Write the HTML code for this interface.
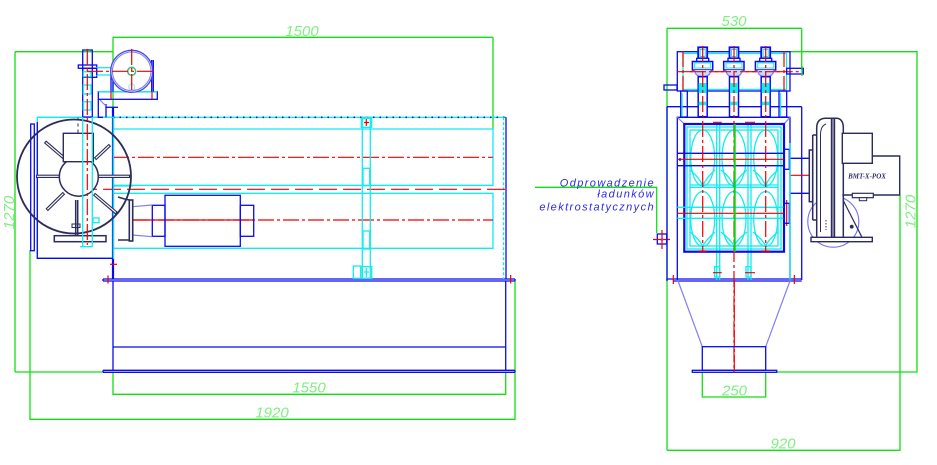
<!DOCTYPE html>
<html><head><meta charset="utf-8"><style>
html,body{margin:0;padding:0;background:#fff;}
svg{display:block;}
.g{stroke:#10e010;fill:none;stroke-width:1.3}
.b{stroke:#0a0af0;fill:none;stroke-width:1.3}
.bb{stroke:#0a0af0;fill:none;stroke-width:2.2}
.c{stroke:#10ecf0;fill:none;stroke-width:1.3}
.r{stroke:#f00000;fill:none;stroke-width:1.2;stroke-dasharray:16 3 3 3}
.rd{stroke:#f00000;fill:none;stroke-width:1.2;stroke-dasharray:18 6}
.rs{stroke:#f00000;fill:none;stroke-width:1.2}
.n{stroke:#2c2c5c;fill:none;stroke-width:1.5}
.l{stroke:#8080f0;fill:none;stroke-width:1.2}
.dt{fill:#80ee80;font-family:"Liberation Sans",sans-serif;font-style:italic;font-size:15px}
.lab{fill:#2a2ae8;font-family:"Liberation Sans",sans-serif;font-style:italic;font-size:11px;letter-spacing:1.4px}
</style></head><body>
<svg width="937" height="465" viewBox="0 0 937 465" xmlns="http://www.w3.org/2000/svg">

<!-- ================= LEFT VIEW ================= -->
<!-- dimensions -->
<path class="g" d="M15,51.7 H113 M15,51.7 V372 M15,372 H103"/>
<path class="g" d="M113,37.3 V129 M493,37.3 V129 M113,37.3 H493"/>
<path class="g" d="M30,250 V419.3 H515 V281"/>
<path class="g" d="M113,372 V394.3 H505.7 V372"/>
<text class="dt" x="302" y="36" text-anchor="middle">1500</text>
<text class="dt" x="309" y="392.5" text-anchor="middle">1550</text>
<text class="dt" x="272" y="417.6" text-anchor="middle">1920</text>
<text class="dt" transform="translate(14,212.5) rotate(-90)" text-anchor="middle">1270</text>

<!-- base frame -->
<path class="b" d="M103,279 H515 M103,281 H515 M103,279 V281 M515,279 V281"/>
<path class="b" d="M113,281 V370.3 M505.7,281 V370.3 M113,347 H505.7"/>
<path class="b" d="M103,370.3 H515 M103,372.3 H515 M103,370.3 V372.3 M515,370.3 V372.3"/>
<path class="rs" d="M108,275.5 V283.5 M510.7,275 V283.5"/>

<!-- housing -->
<path class="c" d="M37.3,117.3 H506"/>
<path d="M113,117.3 H506" stroke="#0a0af0" stroke-width="1.6" stroke-dasharray="1.5 5" fill="none"/>
<path class="b" d="M506,117.3 V279"/>
<path class="c" d="M503.5,117.3 V279" stroke-dasharray="3 2"/>
<path class="c" d="M113,129 H493 V185.3 H113 M113,193.3 H493 V248.3 H113 M113,186 H133"/>
<path class="r" d="M113,157.3 H493"/>
<path class="rd" d="M79,189.3 H506"/>
<path class="r" d="M133,220 H493"/>
<path class="rs" d="M133,220 H253" stroke-width="2"/>

<!-- cylinder -->
<rect class="b" x="165" y="195.3" width="75.3" height="51"/>
<rect class="b" x="152.3" y="205.3" width="12.7" height="31"/>
<rect class="b" x="240.3" y="205.3" width="13.4" height="31"/>
<path class="l" d="M132.3,206.7 L152.3,205 M132.3,235 L152.3,236.7"/>
<rect x="129.3" y="200" width="3.4" height="41" fill="none" stroke="#2c2c5c" stroke-width="1.6"/>
<path class="n" d="M118,197 Q124,199 129.3,200 M118,240 H129.3" stroke-width="1.2"/>

<!-- cyan column -->
<rect class="c" x="362.3" y="117.3" width="8" height="161"/>
<rect class="c" x="361.3" y="118.3" width="10.4" height="9"/>
<path class="rs" d="M366.3,119 V126 M364,122.5 H369"/>
<rect class="c" x="363" y="168.3" width="6.7" height="17.4"/>
<rect class="c" x="363" y="231" width="6.7" height="18"/>
<rect class="c" x="353.3" y="266" width="7.4" height="12.3" stroke-width="2"/>
<rect class="c" x="362.3" y="266.7" width="9.4" height="11.6"/>
<path class="c" d="M366.3,268 V277 M364,272 H369"/>

<!-- thick blue wall -->
<path class="bb" d="M113,107 V279"/>
<path class="b" d="M106,107.3 H118"/>
<path class="rs" d="M110,264.3 H117"/>

<!-- fan section -->
<rect class="c" x="37.3" y="117.3" width="76" height="141"/>
<path class="b" d="M37.3,122 V258.3 H113"/>
<rect class="b" x="30.7" y="124" width="3.6" height="126.7"/>
<circle cx="74" cy="176.5" r="57" fill="none" stroke="#2c2c5c" stroke-width="1.8"/>
<!-- spokes -->
<g stroke="#2c2c5c" stroke-width="3.4" fill="none">
<path d="M36,176.3 H130"/>
<path d="M45,141.7 L64,158 M110,145 L95,159 M46.7,210 L64,193 M116.7,213.3 L94,194"/>
</g>
<g stroke="#ffffff" stroke-width="1.2" fill="none">
<path d="M37,176.3 H129"/>
<path d="M45.8,142.4 L63.2,157.3 M109.2,145.7 L95.8,158.3 M47.4,209.3 L63.3,193.7 M115.9,212.6 L94.8,194.7"/>
</g>
<circle cx="78.8" cy="176.7" r="19.5" fill="#fff" stroke="#2c2c5c" stroke-width="1.5"/>
<rect x="63.3" y="133.3" width="30" height="28.4" fill="#fff" stroke="#2c2c5c" stroke-width="1.4"/>
<path d="M78,117.5 V133" stroke="#2c2c5c" stroke-width="1" stroke-dasharray="3 3" fill="none"/>
<path class="n" d="M77.7,200 V235 M75.7,200 V235" stroke-width="1"/>
<rect x="72" y="224" width="8" height="3.5" fill="none" stroke="#2c2c5c" stroke-width="1"/>
<rect class="n" x="54.3" y="235.7" width="51.7" height="6"/>
<rect class="c" x="93" y="218" width="6" height="4.7"/>

<!-- pipe column -->
<rect class="b" x="82.7" y="50" width="9.6" height="67"/>
<path class="c" d="M82.7,117 V246.7 M92.3,117 V246.7 M80,246.7 H92.3"/>
<rect class="b" x="78.3" y="65" width="18.4" height="3.3" stroke-width="1.6"/>
<rect class="b" x="82.7" y="68.3" width="14" height="9"/>
<rect class="c" x="83.3" y="71.7" width="7.7" height="5"/>
<rect class="c" x="83.3" y="85" width="7.7" height="9"/>
<rect class="c" x="83.3" y="101.7" width="7.7" height="8.3"/>
<path class="r" d="M87.3,49 V245" stroke-dasharray="10 3 2 3"/>
<rect class="c" x="96.7" y="67.7" width="20" height="7.3"/>
<path class="b" d="M96.7,67.7 V75"/>

<!-- blower -->
<rect class="b" x="98.3" y="91.7" width="59" height="7.6"/>
<path class="c" d="M98.3,91.7 H157.3"/>
<path class="b" d="M111,68 V91.7 M113,68 V91.7 M151.7,60 V91.7 M153.3,60 V91.7"/>
<circle cx="131.7" cy="71.3" r="21" fill="#fff" stroke="#4444ee" stroke-width="1.3"/>
<circle cx="131.7" cy="71.3" r="19.3" fill="none" stroke="#8080f0" stroke-width="1.1"/>
<circle cx="131.7" cy="71.3" r="4" fill="none" stroke="#30c080" stroke-width="1.5"/>
<circle cx="131.7" cy="87" r="3" fill="none" stroke="#a0e0f0" stroke-width="1"/>
<path class="r" d="M87,71.3 H153 M131.7,49 V90" stroke-dasharray="8 3 2 3"/>
<path class="rd" d="M111,92 V99 M152,92 V99" stroke-dasharray="3 2"/>
<path class="b" d="M98.3,99.3 V117.3 H103 M106,104 V117.3"/>
<path class="l" d="M100,100 L106,106"/>

<!-- ================= RIGHT VIEW ================= -->
<!-- dimensions -->
<path class="g" d="M667,28.3 H801.7 M667,28.3 V450.3 M801.7,28.3 V70"/>
<path class="g" d="M790,51.7 H917 V372 H776.7"/>
<path class="g" d="M900,195 V450.3 H667"/>
<path class="g" d="M702.3,372 V397 H765.7 V372"/>
<text class="dt" x="734" y="26.2" text-anchor="middle">530</text>
<text class="dt" x="734.5" y="395.5" text-anchor="middle">250</text>
<text class="dt" x="783" y="448.5" text-anchor="middle">920</text>
<text class="dt" transform="translate(915.5,211.5) rotate(-90)" text-anchor="middle">1270</text>

<!-- label + leader -->
<path class="g" d="M535,187.3 H656.7 V233"/>
<text class="lab" x="655" y="186.3" text-anchor="end">Odprowadzenie</text>
<text class="lab" x="655" y="197.7" text-anchor="end">ładunków</text>
<text class="lab" x="655" y="210.5" text-anchor="end">elektrostatycznych</text>
<rect class="b" x="657.3" y="234" width="9.4" height="10"/>
<path class="rs" d="M653,239.5 H670 M662,230 V249"/>
<circle cx="662" cy="239.5" r="1.4" fill="#8040c0"/>

<!-- outer frame -->
<path class="b" d="M667,106.7 H801.7 M667,106.7 V280 M801.7,106.7 V280"/>
<path class="b" d="M667,279 H801.7 M673,281 H801.7 M667,279 V281"/>
<path class="rs" d="M673.3,275 V284 M794.3,275 V284"/>

<!-- body -->
<path class="b" d="M677.3,280 V117.3 H790 V280"/>
<path class="l" d="M677.3,117.3 L684.3,124 M790,117.3 L784,124"/>
<rect class="c" x="687" y="127" width="94" height="122"/>
<rect class="c" x="690" y="130" width="88" height="116"/>
<path class="c" d="M690,185 H778 M690,187.3 H778" stroke-width="1.8"/>
<g class="c" stroke-width="1.1">
<ellipse cx="702.7" cy="158" rx="12" ry="28"/>
<ellipse cx="734" cy="158" rx="12" ry="28"/>
<ellipse cx="765.7" cy="158" rx="12" ry="28"/>
<ellipse cx="702.7" cy="219" rx="12" ry="27.5"/>
<ellipse cx="734" cy="219" rx="12" ry="27.5"/>
<ellipse cx="765.7" cy="219" rx="12" ry="27.5"/>
<path d="M690,170 Q700,178 702.7,186 M715,170 Q706,178 702.7,186 M721,170 Q731,178 734,186 M747,170 Q737,178 734,186 M753,170 Q763,178 765.7,186 M778,170 Q768,178 765.7,186"/>
<path d="M690,232 Q700,240 702.7,246 M715,232 Q706,240 702.7,246 M721,232 Q731,240 734,246 M747,232 Q737,240 734,246 M753,232 Q763,240 765.7,246 M778,232 Q768,240 765.7,246"/>
</g>
<path class="c" d="M716.7,124 V280 M719.7,124 V280 M748,124 V280 M751,124 V280"/>
<rect class="bb" x="684.3" y="124" width="99.7" height="127.7"/>
<rect class="c" x="714.7" y="266.7" width="5" height="10.3"/>
<rect class="c" x="746" y="266.7" width="5" height="10.3"/>
<path class="rs" d="M713,122.3 H721.7 M745,122.3 H755 M713,272.7 H721.7 M745,272.7 H755 M698,251 H707 M761,251 H770"/>

<!-- rods -->
<path class="b" d="M677.3,153.3 H784 M677.3,165.7 H784" stroke-width="1.6"/>
<path class="rs" d="M677.3,159.3 H784"/>
<rect class="b" x="784" y="149.3" width="5.3" height="20"/>
<path class="c" d="M677.3,207.3 H784 M677.3,218.3 H784"/>
<path class="rs" d="M677.3,213.3 H784 M786.7,200 V226"/>
<rect class="b" x="784" y="203.3" width="5.3" height="20"/>
<path class="b" d="M680,158 V161" />
<path class="b" d="M790,158.3 H810 M790,193.3 H810"/>
<path class="rs" d="M790,175.3 H810"/>
<path class="c" d="M790,143 V280"/>

<!-- centerlines -->
<path class="r" d="M734,46 V372" stroke-dasharray="22 3 3 3"/>
<path class="r" d="M702.7,46 V251 M765.7,46 V251"/>
<path d="M734.7,124 V251.7" stroke="#10d010" stroke-width="2" fill="none"/>

<!-- top box -->
<rect class="b" x="677.3" y="51.7" width="112.7" height="39.3" stroke-width="1.8"/>
<rect class="c" x="683" y="53.5" width="103.5" height="36"/>
<path class="r" d="M683,51 V91 M784,51 V91" stroke-dasharray="6 3 2 3"/>
<path class="r" d="M676.7,71.7 H801.7" stroke-dasharray="12 3 3 3"/>
<rect class="b" x="786.7" y="68.3" width="16.6" height="5.7"/>
<path class="g" d="M802,66 V76"/>
<rect class="b" x="664" y="85" width="13" height="5"/>
<rect class="b" x="680.7" y="91" width="6.6" height="26"/>
<rect class="b" x="779" y="91" width="7.7" height="26"/>
<path class="c" d="M682,93 V116 M780.5,93 V116"/>

<!-- insulators -->
<g>
<g transform="translate(702.7,0)">
<rect x="-4.5" y="47.3" width="9" height="11" fill="#fff" stroke="#0a0af0" stroke-width="1.8"/>
<rect x="-2.5" y="49.5" width="5" height="7" fill="none" stroke="#10ecf0" stroke-width="1"/>
<rect x="-6" y="58.3" width="12" height="3.5" fill="#fff" stroke="#0a0af0" stroke-width="1.3"/>
<rect x="-10.3" y="61.5" width="20.3" height="8.5" fill="#fff" stroke="#0a0af0" stroke-width="1.5"/>
<rect x="-8" y="63" width="16" height="5" fill="none" stroke="#10ecf0" stroke-width="1"/>
<path d="M-8,70 Q-8,76.5 0,76.5 Q8,76.5 8,70" fill="#c8d8ff" stroke="#8080f0" stroke-width="1.2"/>
<rect x="-4.5" y="76.7" width="9" height="40" fill="#fff" stroke="#0a0af0" stroke-width="1.5"/>
<rect x="-4" y="83" width="8" height="10" fill="#10ecf0"/>
<rect x="-4" y="101.7" width="8" height="3.5" fill="#10ecf0"/>
</g>
<g transform="translate(734,0)">
<rect x="-4.5" y="47.3" width="9" height="11" fill="#fff" stroke="#0a0af0" stroke-width="1.8"/>
<rect x="-2.5" y="49.5" width="5" height="7" fill="none" stroke="#10ecf0" stroke-width="1"/>
<rect x="-6" y="58.3" width="12" height="3.5" fill="#fff" stroke="#0a0af0" stroke-width="1.3"/>
<rect x="-10.3" y="61.5" width="20.3" height="8.5" fill="#fff" stroke="#0a0af0" stroke-width="1.5"/>
<rect x="-8" y="63" width="16" height="5" fill="none" stroke="#10ecf0" stroke-width="1"/>
<path d="M-8,70 Q-8,76.5 0,76.5 Q8,76.5 8,70" fill="#c8d8ff" stroke="#8080f0" stroke-width="1.2"/>
<rect x="-4.5" y="76.7" width="9" height="40" fill="#fff" stroke="#0a0af0" stroke-width="1.5"/>
<rect x="-4" y="83" width="8" height="10" fill="#10ecf0"/>
<rect x="-4" y="101.7" width="8" height="3.5" fill="#10ecf0"/>
</g>
<g transform="translate(765.7,0)">
<rect x="-4.5" y="47.3" width="9" height="11" fill="#fff" stroke="#0a0af0" stroke-width="1.8"/>
<rect x="-2.5" y="49.5" width="5" height="7" fill="none" stroke="#10ecf0" stroke-width="1"/>
<rect x="-6" y="58.3" width="12" height="3.5" fill="#fff" stroke="#0a0af0" stroke-width="1.3"/>
<rect x="-10.3" y="61.5" width="20.3" height="8.5" fill="#fff" stroke="#0a0af0" stroke-width="1.5"/>
<rect x="-8" y="63" width="16" height="5" fill="none" stroke="#10ecf0" stroke-width="1"/>
<path d="M-8,70 Q-8,76.5 0,76.5 Q8,76.5 8,70" fill="#c8d8ff" stroke="#8080f0" stroke-width="1.2"/>
<rect x="-4.5" y="76.7" width="9" height="40" fill="#fff" stroke="#0a0af0" stroke-width="1.5"/>
<rect x="-4" y="83" width="8" height="10" fill="#10ecf0"/>
<rect x="-4" y="101.7" width="8" height="3.5" fill="#10ecf0"/>
</g>
<path class="r" d="M702.7,46 V117 M734,46 V117 M765.7,46 V117" stroke-dasharray="8 3 2 3"/>
<path class="r" d="M690,71.7 H780" stroke-dasharray="12 3 3 3"/>
</g>

<!-- hopper -->
<path class="l" d="M677.7,280 L702.3,346.7 M790.3,280 L765.7,346.7"/>
<rect class="b" x="702.3" y="346.7" width="63.4" height="23.6"/>
<rect class="b" x="692.3" y="370.3" width="84.4" height="2"/>
<path class="r" d="M734.3,280 V372" stroke-dasharray="22 3 3 3"/>

<!-- motor (right view) -->
<circle cx="833.3" cy="221.7" r="25.5" fill="none" stroke="#7070f0" stroke-width="1.1"/>
<rect class="n" x="809.3" y="150" width="3.4" height="51.7" stroke="#2a2ad0"/>
<path class="n" d="M812.7,135 H816.7 M812.7,220 H816.7 M812.7,135 V220" stroke-width="1.2"/>
<path d="M816.7,236.7 V128 Q816.7,118.3 826,118.3 H836 Q843.3,118.3 843.3,128 V236.7" fill="#fff" stroke="#2c2c5c" stroke-width="1.5"/>
<path d="M820.5,232 V135 Q820.5,126 826,124" fill="none" stroke="#2c2c5c" stroke-width="1"/>
<path d="M831.7,118.3 V237 M834.3,118.3 V237" stroke="#2c2c5c" stroke-width="1.8" fill="none"/>
<path d="M826,220 V230" stroke="#2c2c5c" stroke-width="1" stroke-dasharray="1.5 1.5"/>
<rect x="842.3" y="133.3" width="30" height="30" fill="#fff" stroke="#2c2c5c" stroke-width="1.4"/>
<path d="M872.3,156 H899.7 V195 H842.3" fill="none" stroke="#2c2c5c" stroke-width="1.4"/>
<text x="867" y="178.5" text-anchor="middle" fill="#2c2c5c" font-family="'Liberation Serif',serif" font-style="italic" font-weight="bold" font-size="7px">BMT-X-POX</text>
<rect x="852.3" y="193.3" width="21" height="4.4" fill="#fff" stroke="#2c2c5c" stroke-width="1.2"/>
<rect x="859.3" y="197.7" width="7.4" height="3" fill="#fff" stroke="#2c2c5c" stroke-width="1"/>
<path d="M843,200 L861.7,236.7" stroke="#2c2c5c" stroke-width="1.2"/>
<circle cx="851.7" cy="226.7" r="1.9" fill="#2c2c5c"/>
<rect x="811" y="237.3" width="61.3" height="4.4" fill="#fff" stroke="#2c2c5c" stroke-width="1.4"/>

</svg>
</body></html>
